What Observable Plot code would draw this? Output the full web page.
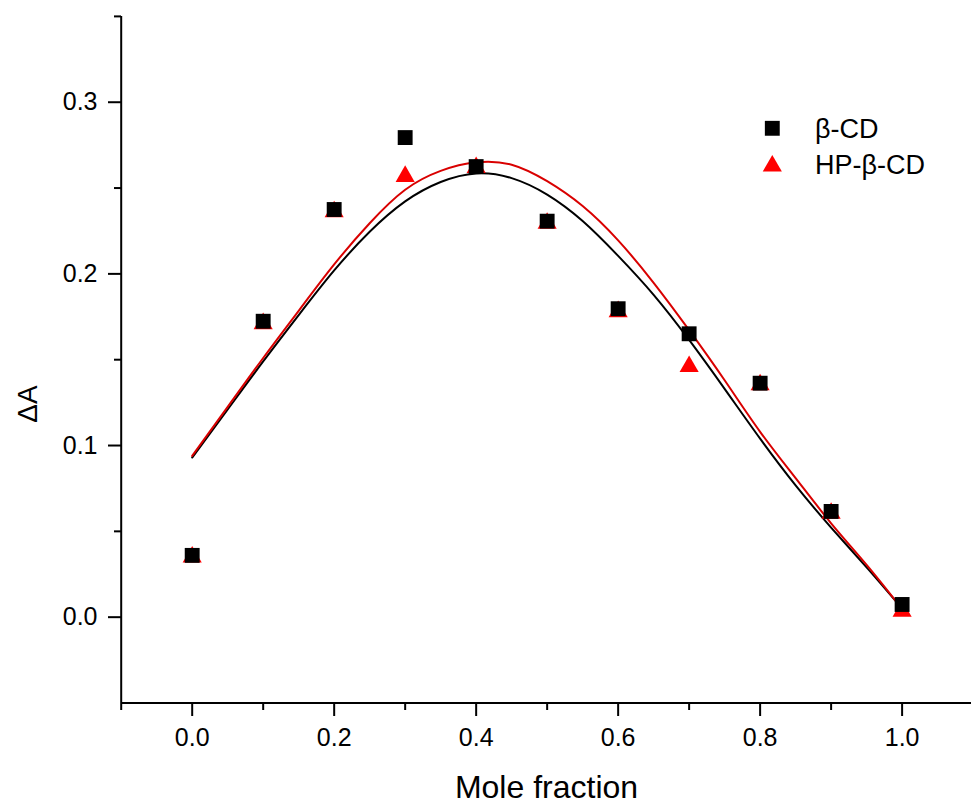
<!DOCTYPE html>
<html><head><meta charset="utf-8">
<script src="https://cdn.jsdelivr.net/npm/d3@7"></script>
<script src="https://cdn.jsdelivr.net/npm/@observablehq/plot@0.6"></script>
<style>
html,body{margin:0;padding:0;background:#fff;}
#wrap{position:relative;width:971px;height:806px;font-family:"Liberation Sans",Arial,sans-serif;overflow:hidden;}
#legend{position:absolute;left:0;top:0;width:971px;height:806px;pointer-events:none;}
</style></head><body><div id="wrap"></div>
<script>
// measured data
const moleFraction = [0.0, 0.1, 0.2, 0.3, 0.4, 0.5, 0.6, 0.7, 0.8, 0.9, 1.0];
const betaCD   = [0.036, 0.1724, 0.2375, 0.2794, 0.2625, 0.2307, 0.1797, 0.1651, 0.1363, 0.0616, 0.0074];
const hpBetaCD = [0.035, 0.171, 0.2362, 0.2568, 0.262, 0.2295, 0.178, 0.146, 0.1354, 0.0605, 0.0034];

// fitted curves
const fitX    = [0, 0.05, 0.1, 0.15, 0.2, 0.25, 0.3, 0.35, 0.4, 0.45, 0.5, 0.55, 0.6, 0.65, 0.7, 0.75, 0.8, 0.85, 0.9, 0.95, 1.0];
const betaFit = [0.093, 0.121, 0.149, 0.176, 0.202, 0.2245, 0.2422, 0.2535, 0.2585, 0.2558, 0.2462, 0.2308, 0.2105, 0.1878, 0.1615, 0.1330, 0.1040, 0.0768, 0.0522, 0.0290, 0.0050];
const hpFit   = [0.094, 0.1225, 0.151, 0.1785, 0.2055, 0.2295, 0.2490, 0.2600, 0.2650, 0.2636, 0.2540, 0.2395, 0.2195, 0.1948, 0.1672, 0.1380, 0.1080, 0.0810, 0.0547, 0.0305, 0.0048];

const xMajor = [0.0, 0.2, 0.4, 0.6, 0.8, 1.0];
const xMinor = [-0.1, 0.1, 0.3, 0.5, 0.7, 0.9, 1.1];
const yMajor = [0.0, 0.1, 0.2, 0.3];
const yMinor = [0.05, 0.15, 0.25, 0.35];
const seriesNames = ["β-CD", "HP-β-CD"];
const xTitle = "Mole fraction";
const yTitle = "ΔA";

const pts1 = moleFraction.map((x, i) => ({x, y: betaCD[i]}));
const pts2 = moleFraction.map((x, i) => ({x, y: hpBetaCD[i]}));
const fit1 = fitX.map((x, i) => ({x, y: betaFit[i]}));
const fit2 = fitX.map((x, i) => ({x, y: hpFit[i]}));

const fmt = d3.format(".1f");
const FONT = "'Liberation Sans', Arial, sans-serif";

const chart = Plot.plot({
  width: 971,
  height: 806,
  marginLeft: 121,
  marginRight: 0,
  marginTop: 16,
  marginBottom: 103,
  style: {fontFamily: FONT, fontSize: "25px", background: "#fff", color: "#000"},
  x: {domain: [-0.1, 1.1], range: [120.7, 972.6]},
  y: {domain: [-0.05, 0.35], range: [702.5, 15.9]},
  marks: [
    Plot.axisX({ticks: xMajor, tickSize: 13, tickPadding: 12, tickFormat: fmt, fontSize: 25, strokeWidth: 2, label: null}),
    Plot.axisX({ticks: xMinor, tickSize: 7, tickFormat: () => "", strokeWidth: 2, label: null}),
    Plot.axisY({ticks: yMajor, tickSize: 13, tickPadding: 11, tickFormat: fmt, fontSize: 25, strokeWidth: 2, label: null}),
    Plot.axisY({ticks: yMinor, tickSize: 7, tickFormat: () => "", strokeWidth: 2, label: null}),
    Plot.ruleX([-0.1], {strokeWidth: 2}),
    Plot.ruleY([-0.05], {strokeWidth: 2}),
    Plot.line(fit1, {x: "x", y: "y", stroke: "#000", strokeWidth: 2, curve: "natural"}),
    Plot.line(fit2, {x: "x", y: "y", stroke: "#d90000", strokeWidth: 2, curve: "natural"}),
    Plot.dot(pts2, {x: "x", y: "y", symbol: "triangle", r: 7.1, fill: "#ff0000", stroke: "none"}),
    Plot.dot(pts1, {x: "x", y: "y", symbol: "square", r: 8.4, fill: "#000", stroke: "none"}),
    Plot.text([xTitle], {frameAnchor: "bottom", dy: 84, lineAnchor: "middle", textAnchor: "middle", fontSize: 32, fill: "#000"}),
    Plot.text([yTitle], {frameAnchor: "left", dx: -93, dy: 44, rotate: -90, lineAnchor: "middle", textAnchor: "middle", fontSize: 28, fill: "#000"})
  ]
});

const wrap = document.getElementById("wrap");
wrap.appendChild(chart);

// legend overlay
const ns = "http://www.w3.org/2000/svg";
const leg = document.createElementNS(ns, "svg");
leg.setAttribute("id", "legend");
leg.setAttribute("width", 971);
leg.setAttribute("height", 806);
const legItems = [
  {name: seriesNames[0], sym: d3.symbolSquare, size: Math.PI * 8.4 * 8.4, fill: "#000", cy: 128.3, base: 138},
  {name: seriesNames[1], sym: d3.symbolTriangle, size: Math.PI * 7.1 * 7.1, fill: "#ff0000", cy: 166, base: 174}
];
legItems.forEach(it => {
  const p = document.createElementNS(ns, "path");
  p.setAttribute("d", d3.symbol(it.sym, it.size)());
  p.setAttribute("transform", `translate(772.3,${it.cy})`);
  p.setAttribute("fill", it.fill);
  leg.appendChild(p);
  const t = document.createElementNS(ns, "text");
  t.setAttribute("x", 815);
  t.setAttribute("y", it.base);
  t.setAttribute("font-size", 27);
  t.setAttribute("font-family", FONT);
  t.setAttribute("fill", "#000");
  t.textContent = it.name;
  leg.appendChild(t);
});
wrap.appendChild(leg);
</script>
</body></html>
